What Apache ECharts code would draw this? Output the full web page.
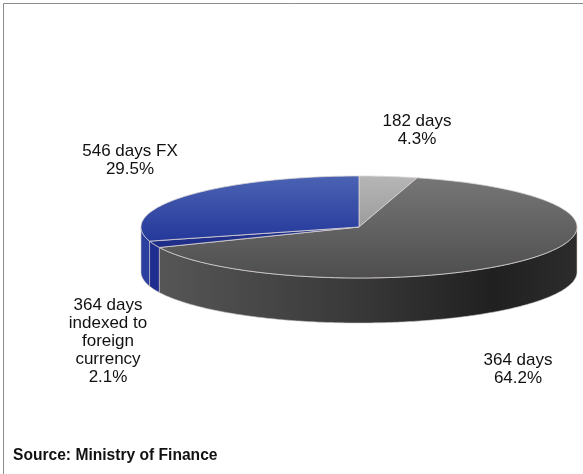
<!DOCTYPE html>
<html>
<head>
<meta charset="utf-8">
<script src="https://cdn.jsdelivr.net/npm/echarts@6/dist/echarts.min.js"></script>
<style>
  html, body { margin: 0; padding: 0; background: #fff; }
  #chart { width: 583px; height: 474px; }
</style>
</head>
<body>
<div id="chart"></div>
<script>
// Share of outstanding bills by maturity (clockwise from 12 o'clock)
const sliceNames = ['182 days', '364 days', '364 days\nindexed to\nforeign\ncurrency', '546 days FX'];
const sliceValues = [4.3, 64.2, 2.1, 29.5];
const sourceNote = 'Source: Ministry of Finance';

// Layout of the tilted pie (ellipse centre, radii, wall thickness)
const PIE = { cx: 359, cy: 227, rx: 218, ry: 51, depth: 45 };
// Label block centres for each slice
const labelAnchors = [[417, 130], [518, 369], [108, 341], [130, 160]];

const vGrad = (a, b) => ({ type: 'linear', x: 0, y: 0, x2: 0, y2: 1, colorStops: [{ offset: 0, color: a }, { offset: 1, color: b }] });
const topFills = [
  vGrad('#b6b6b6', '#9c9c9c'),
  vGrad('#767676', '#4e4e4e'),
  vGrad('#22338f', '#1d2c86'),
  vGrad('#4b63b3', '#24389a')
];
const sideFills = [
  '#8a8a8a',
  { type: 'linear', x: 0, y: 0, x2: 1, y2: 0, colorStops: [
    { offset: 0, color: '#565656' }, { offset: 0.45, color: '#3a3a3a' },
    { offset: 0.8, color: '#202020' }, { offset: 1, color: '#2c2c2c' }] },
  '#1f2e8e',
  '#2b3f9e'
];

const total = sliceValues.reduce((s, v) => s + v, 0);
const startFrac = sliceValues.map((v, i) => sliceValues.slice(0, i).reduce((s, x) => s + x, 0) / total);

// point on the ellipse rim; angle measured clockwise from 12 o'clock
function rim(t, dy) {
  return [PIE.cx + PIE.rx * Math.sin(t), PIE.cy - PIE.ry * Math.cos(t) + dy];
}
function arc(t0, t1, dy) {
  const n = Math.max(2, Math.ceil(Math.abs(t1 - t0) / 0.015));
  const pts = [];
  for (let k = 0; k <= n; k++) pts.push(rim(t0 + (t1 - t0) * k / n, dy));
  return pts;
}

function renderSlice(params, api) {
  const i = params.dataIndex;
  const v = api.value(0);
  const t0 = startFrac[i] * 2 * Math.PI;
  const t1 = t0 + v / total * 2 * Math.PI;
  const children = [];

  // front wall: only the part facing the viewer (between 3 and 9 o'clock)
  const a = Math.max(t0, Math.PI / 2), b = Math.min(t1, Math.PI * 1.5);
  if (b > a) {
    const pts = arc(a, b, 0).concat(arc(b, a, PIE.depth));
    children.push({
      type: 'polygon', z2: 1,
      shape: { points: pts },
      style: { fill: sideFills[i], stroke: '#cfc6c4', lineWidth: 0.6 }
    });
  }

  // top face
  children.push({
    type: 'polygon', z2: 10,
    shape: { points: [[PIE.cx, PIE.cy]].concat(arc(t0, t1, 0)) },
    style: { fill: topFills[i], stroke: '#ddd6d4', lineWidth: 0.8 }
  });

  // value label
  children.push({
    type: 'text', z2: 20,
    style: {
      text: sliceNames[i] + '\n' + v.toFixed(1) + '%',
      x: labelAnchors[i][0], y: labelAnchors[i][1],
      align: 'center', verticalAlign: 'middle',
      fontFamily: '"Liberation Sans", Arial, sans-serif',
      fontSize: 17, lineHeight: 18, fill: '#111'
    }
  });
  return { type: 'group', children };
}

const chart = echarts.init(document.getElementById('chart'), null, { renderer: 'canvas' });
chart.setOption({
  animation: false,
  backgroundColor: '#fff',
  series: [{
    type: 'custom',
    coordinateSystem: 'none',
    renderItem: renderSlice,
    data: sliceValues.map((v, i) => ({ name: sliceNames[i], value: [v] }))
  }],
  graphic: [
    { type: 'line', shape: { x1: 3.5, y1: 3.5, x2: 583, y2: 3.5 }, style: { stroke: '#8c8c8c', lineWidth: 1 } },
    { type: 'line', shape: { x1: 3.5, y1: 3.5, x2: 3.5, y2: 474 }, style: { stroke: '#8c8c8c', lineWidth: 1 } },
    {
      type: 'text', left: 13, top: 448,
      style: {
        text: sourceNote, fill: '#111',
        fontFamily: '"Liberation Sans", Arial, sans-serif',
        fontSize: 15.6, fontWeight: 'bold'
      }
    }
  ]
});
</script>
</body>
</html>
